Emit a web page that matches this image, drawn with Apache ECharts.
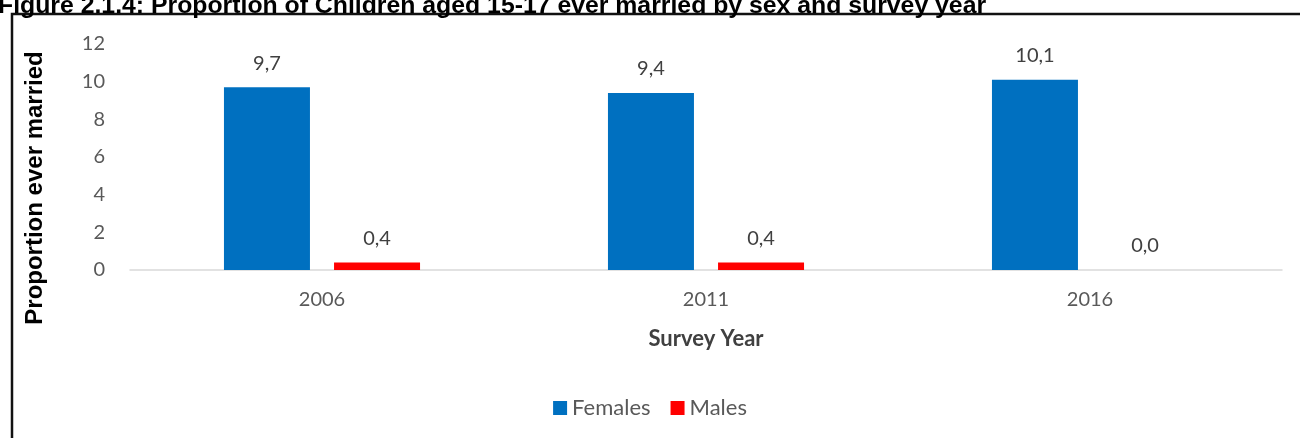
<!DOCTYPE html>
<html>
<head>
<meta charset="utf-8">
<script src="https://cdn.jsdelivr.net/npm/echarts@6/dist/echarts.min.js"></script>
<style>
  html, body { margin: 0; padding: 0; background: #fff; }
  #main { width: 1300px; height: 438px; }
</style>
</head>
<body>
<div id="main"></div>
<script>
var years = ['2006', '2011', '2016'];
var females = [9.7, 9.4, 10.1];
var males = [0.4, 0.4, 0.0];
var yTicks = [0, 2, 4, 6, 8, 10, 12];

var chart = echarts.init(document.getElementById('main'));

// labels use a comma as decimal separator, like the original
function commaLabel(p) {
    return p.value.toFixed(1).replace('.', ',');
}

var barLabel = {
    show: true,
    position: 'top',
    distance: 14,
    formatter: commaLabel,
    fontFamily: 'Lato',
    fontSize: 20,
    color: '#404040'
};

var option = {
    backgroundColor: '#fff',
    animation: false,
    title: {
        text: 'Figure 2.1.4: Proportion of Children aged 15-17 ever married by sex and survey year',
        left: -2,
        top: -6,
        padding: 0,
        textStyle: {
            fontFamily: 'Liberation Sans',
            fontWeight: 'bold',
            fontSize: 24.8,
            color: '#000'
        }
    },
    graphic: [{
        type: 'rect',
        shape: { x: 12, y: 14, width: 1300, height: 440 },
        style: { fill: 'none', stroke: '#111', lineWidth: 2.5 }
    }, {
        type: 'text',
        x: 35,
        y: 188,
        rotation: Math.PI / 2,
        style: {
            text: 'Proportion ever married',
            align: 'center',
            verticalAlign: 'middle',
            fontFamily: 'Liberation Sans',
            fontWeight: 'bold',
            fontSize: 24,
            fill: '#000'
        }
    }],
    legend: {
        bottom: 14,
        left: 'center',
        itemWidth: 14,
        itemHeight: 14,
        itemGap: 20,
        icon: 'rect',
        textStyle: { fontFamily: 'Lato', fontSize: 22, color: '#595959' },
        data: ['Females', 'Males']
    },
    grid: { left: 130, right: 18, top: 44, bottom: 168 },
    xAxis: {
        type: 'category',
        data: years,
        name: 'Survey Year',
        nameLocation: 'middle',
        nameGap: 58,
        nameTextStyle: { fontFamily: 'Lato', fontWeight: 'bold', fontSize: 22, color: '#404040' },
        axisLine: { lineStyle: { color: '#d9d9d9', width: 1.5 } },
        axisTick: { show: false },
        axisLabel: { margin: 20, fontFamily: 'Lato', fontSize: 20, color: '#595959' }
    },
    yAxis: {
        type: 'value',
        min: yTicks[0],
        max: yTicks[yTicks.length - 1],
        interval: 2,
        axisLine: { show: false },
        axisTick: { show: false },
        splitLine: { show: false },
        axisLabel: { margin: 25, fontFamily: 'Lato', fontSize: 20, color: '#595959' }
    },
    series: [
        {
            name: 'Females',
            type: 'bar',
            data: females,
            barWidth: 86,
            barGap: '28%',
            itemStyle: { color: '#0070C0' },
            label: barLabel
        },
        {
            name: 'Males',
            type: 'bar',
            data: males,
            barWidth: 86,
            itemStyle: { color: '#FF0000' },
            label: barLabel
        }
    ]
};

chart.setOption(option);
</script>
</body>
</html>
